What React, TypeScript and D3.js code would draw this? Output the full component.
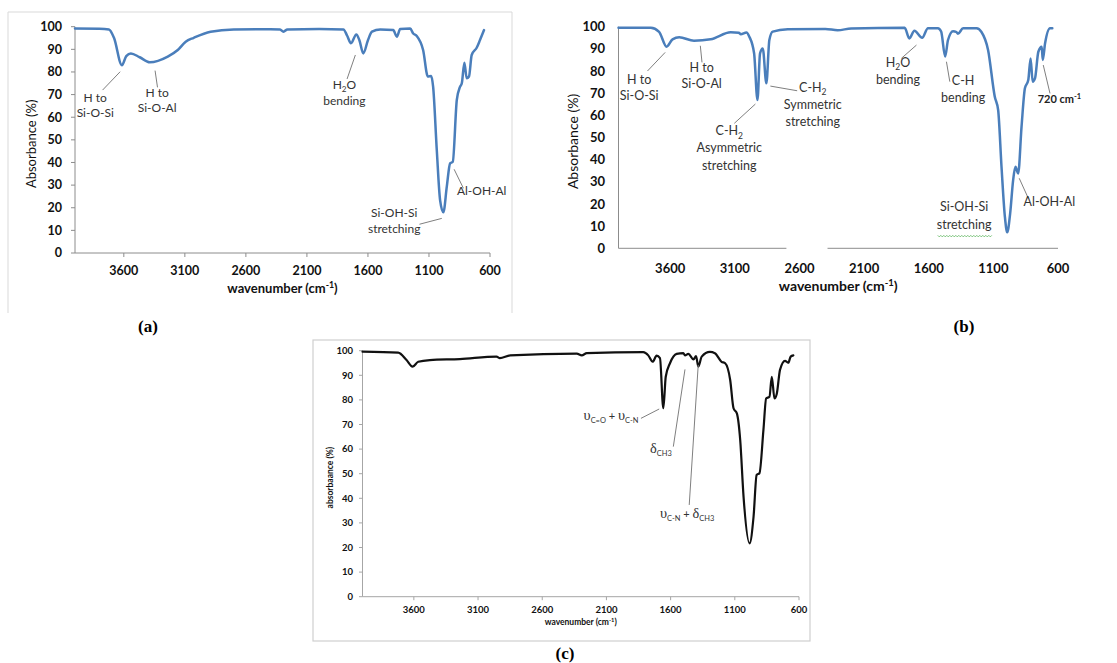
import * as d3 from "d3";

// ---- data ----------------------------------------------------------------
const X_TICKS = [3600, 3100, 2600, 2100, 1600, 1100, 600];
const Y_TICKS = [0, 10, 20, 30, 40, 50, 60, 70, 80, 90, 100];

// (a) kaolinite
const waveA = [4000, 3800, 3722, 3680, 3616, 3580, 3542, 3470, 3387, 3240, 3158, 3093, 3027, 2889, 2700, 2400, 2320, 2292, 2260, 2000, 1801, 1770, 1739, 1695, 1670, 1638, 1600, 1567, 1499, 1393, 1363, 1336, 1254, 1229, 1200, 1148, 1109, 1082, 1066, 1036, 1009, 982, 954, 927, 905, 872, 845, 831, 810, 791, 772, 750, 709, 682, 649];
const absA = [99.2, 99.1, 98.8, 95, 83, 87, 88.2, 86.5, 84.3, 86.8, 89.7, 93.4, 95.1, 97.8, 98.8, 98.9, 98.8, 97.8, 98.8, 99, 98.8, 96, 92.7, 96.6, 94, 88.2, 94, 97.8, 98.8, 98.5, 95.6, 99, 99.2, 97, 95.9, 89.7, 78, 78.2, 73.5, 45.5, 23.4, 18, 29.3, 39.6, 40.3, 67.6, 73.5, 75, 84.1, 77.2, 78, 87.5, 90.7, 94.1, 98.5];

// (b) modified kaolinite
const waveB = [4000, 3750, 3686, 3628, 3582, 3530, 3416, 3287, 3132, 3070, 3054, 3010, 2988, 2951, 2925, 2905, 2884, 2856, 2833, 2807, 2691, 2400, 2305, 2200, 1786, 1750, 1711, 1651, 1606, 1529, 1504, 1473, 1451, 1412, 1386, 1374, 1334, 1230, 1192, 1141, 1089, 1063, 1037, 1011, 993, 970, 947, 929, 908, 882, 856, 830, 812, 796, 778, 752, 726, 718, 700, 662, 644];
const absB = [99.5, 99.5, 97.7, 91, 94.3, 95.2, 93.7, 94.3, 97.5, 97.3, 96.6, 97.4, 95.5, 88, 66.9, 88, 90.2, 74.5, 94, 97.8, 98.8, 99, 98.4, 99.2, 99.5, 94.7, 98.2, 95, 99.3, 99.3, 97.8, 86.5, 94, 98, 97.6, 96.8, 99.3, 99.3, 97.6, 89.5, 68.4, 62.4, 36.8, 14.3, 7.2, 15.8, 30.8, 36.8, 33.8, 54.9, 72.2, 75.9, 85.7, 75.2, 76.7, 88.7, 91, 85, 92.5, 99.3, 99.3];

// (c) urea intercalated
const waveC = [4000, 3722, 3657, 3610, 3566, 3475, 3242, 2956, 2930, 2850, 2331, 2292, 2253, 1813, 1774, 1740, 1709, 1683, 1657, 1638, 1605, 1553, 1501, 1488, 1462, 1422, 1402, 1384, 1358, 1294, 1255, 1203, 1175, 1136, 1110, 1084, 1058, 1032, 985, 954, 930, 908, 877, 856, 830, 812, 791, 773, 748, 709, 683, 665, 644];
const absC = [99.6, 99.2, 96.2, 93.5, 95.5, 96.2, 96.6, 97.6, 97, 98.1, 98.8, 98.1, 99, 99.4, 98.1, 95.5, 98, 97, 76.6, 89.4, 94.9, 98.7, 99, 98.1, 98.7, 96.5, 97.8, 93.5, 97.6, 99.5, 99, 95.5, 94.9, 88.1, 76.6, 74.5, 63.7, 40.7, 21.7, 32.5, 49.5, 50.2, 67.8, 80.6, 81.3, 89.4, 80.6, 82.5, 92.2, 95.9, 95.1, 97.6, 98.1];

// annotations: anchor on the curve, leader end, text lines (wavenumber, absorbance)
type Note = { at?: [number, number]; to?: [number, number]; tx: number; ty: number[]; lines: string[]; anchor?: string };

const notesA: Note[] = [
  { at: [3630, 80.1], to: [3774, 72], tx: 3834, ty: [66.9, 60.2], lines: ["H to", "Si-O-Si"] },
  { at: [3344, 80.6], to: [3324, 73.2], tx: 3327, ty: [69.1, 62.2], lines: ["H to", "Si-O-Al"] },
  { at: [1703, 87.5], to: [1771, 76.9], tx: 1793, ty: [72.5, 65.4], lines: ["H_{2}O", "bending"] },
  { at: [995, 15.3], to: [1178, 12.7], tx: 1385, ty: [15.8, 9.0], lines: ["Si-OH-Si", "stretching"] },
  { at: [894, 37], to: [818, 28.6], tx: 668, ty: [25.6], lines: ["Al-OH-Al"] },
];

const notesB: Note[] = [
  { at: [3639, 88.4], to: [3776, 80], tx: 3840, ty: [74.1, 66.9], lines: ["H to", "Si-O-Si"] },
  { at: [3367, 91.4], to: [3354, 83.9], tx: 3357, ty: [79.7, 72.2], lines: ["H to", "Si-O-Al"] },
  { at: [2941, 65.1], to: [3104, 56.4], tx: 3143, ty: [51.1, 43.3, 35.3], lines: ["C-H_{2}", "Asymmetric", "stretching"] },
  { at: [2825, 73.2], to: [2618, 71.1], tx: 2497, ty: [70.7, 62.9, 55.2], lines: ["C-H_{2}", "Symmetric", "stretching"] },
  { at: [1695, 91.7], to: [1812, 85.7], tx: 1838, ty: [82, 74.1], lines: ["H_{2}O", "bending"] },
  { at: [1463, 84.2], to: [1437, 75.2], tx: 1334, ty: [73.7, 65.9], lines: ["C-H", "bending"] },
  { at: [900, 31.6], to: [830, 22.6], tx: 667, ty: [19.2], lines: ["Al-OH-Al"] },
  { tx: 1326, ty: [16.8, 8.7], lines: ["Si-OH-Si", "stretching"] },
];

const noteB720: Note = { at: [714, 82.7], to: [662, 69.9], tx: 757, ty: [65.4], lines: ["720 cm^{-1}"], anchor: "start" };

const notesC: Note[] = [
  { at: [1689, 76.3], to: [1831, 72.5], tx: 1850, ty: [71.8], lines: ["υ_{C=O} + υ_{C-N}"], anchor: "end" },
  { at: [1488, 92.4], to: [1579, 61], tx: 1761, ty: [58.3], lines: ["δ_{CH3}"], anchor: "start" },
  { at: [1385, 94.2], to: [1455, 37.3], tx: 1683, ty: [31.9], lines: ["υ_{C-N} + δ_{CH3}"], anchor: "start" },
];

const SANS = "Lato, 'Open Sans', sans-serif";
const SERIF = "'Liberation Serif', 'DejaVu Serif', serif";

// text with _{sub} / ^{sup} and serif greek letters
function Rich({ s, size }: { s: string; size: number }) {
  const parts = s.split(/(_\{[^}]*\}|\^\{[^}]*\}|[υδ])/).filter((p) => p !== "");
  let cur = 0;
  return (
    <>
      {parts.map((p, i) => {
        let target = 0;
        let txt = p;
        let fs = size;
        let fam: string | undefined;
        if (p.startsWith("_{")) {
          target = size * 0.28;
          txt = p.slice(2, -1);
          fs = size * 0.68;
        } else if (p.startsWith("^{")) {
          target = -size * 0.38;
          txt = p.slice(2, -1);
          fs = size * 0.68;
        } else if (p === "υ" || p === "δ") {
          fam = SERIF;
          fs = size * 1.3;
        }
        const dy = target - cur;
        cur = target;
        return (
          <tspan key={i} dy={dy} fontSize={fs} fontFamily={fam}>
            {txt}
          </tspan>
        );
      })}
    </>
  );
}

type PanelProps = {
  waves: number[];
  vals: number[];
  left: number;
  right: number;
  top: number;
  bottom: number;
  color: string;
  lineW: number;
  tickFont: number;
  tickLen: number;
  labelRight: number;
  xLabelY: number;
  yTitle: string;
  yTitleX: number;
  yTitleSize: number;
  yTitleWeight: number;
  xTitleY: number;
  xTitleSize: number;
  axisColor: string;
  notes: Note[];
  noteSize: number;
  gap?: [number, number];
};

function Panel(p: PanelProps) {
  const x = d3.scaleLinear().domain([4000, 600]).range([p.left, p.right]);
  const y = d3.scaleLinear().domain([0, 100]).range([p.bottom, p.top]);
  const pts = p.waves.map((w, i) => [w, p.vals[i]] as [number, number]);
  const line = d3
    .line<[number, number]>()
    .x((d) => x(d[0]))
    .y((d) => y(d[1]))
    .curve(d3.curveMonotoneX);

  const axisSegs: [number, number][] = p.gap
    ? [
        [4000, p.gap[0]],
        [p.gap[1], 600],
      ]
    : [[4000, 600]];

  return (
    <g>
      {/* axes */}
      <line x1={p.left} x2={p.left} y1={p.top} y2={p.bottom} stroke={p.axisColor} strokeWidth={1} />
      {axisSegs.map((s, i) => (
        <line key={i} x1={x(s[0])} x2={x(s[1])} y1={p.bottom} y2={p.bottom} stroke={p.axisColor} strokeWidth={1} />
      ))}
      {p.tickLen > 0 &&
        Y_TICKS.map((t) => (
          <line key={"yt" + t} x1={p.left - p.tickLen} x2={p.left} y1={y(t)} y2={y(t)} stroke={p.axisColor} />
        ))}
      {p.tickLen > 0 &&
        X_TICKS.map((t) => (
          <line key={"xt" + t} x1={x(t)} x2={x(t)} y1={p.bottom} y2={p.bottom + p.tickLen} stroke={p.axisColor} />
        ))}
      {Y_TICKS.map((t) => (
        <text
          key={"yl" + t}
          x={p.labelRight}
          y={y(t)}
          dy="0.35em"
          textAnchor="end"
          fontFamily={SANS}
          fontWeight={700}
          fontSize={p.tickFont}
          fill="#111"
        >
          {t}
        </text>
      ))}
      {X_TICKS.map((t) => (
        <text
          key={"xl" + t}
          x={x(t)}
          y={p.xLabelY}
          dy="0.35em"
          textAnchor="middle"
          fontFamily={SANS}
          fontWeight={700}
          fontSize={p.tickFont}
          fill="#111"
        >
          {t}
        </text>
      ))}
      <text
        transform={`translate(${p.yTitleX},${(p.top + p.bottom) / 2 + 4}) rotate(-90)`}
        dy="0.35em"
        textAnchor="middle"
        fontFamily={SANS}
        fontWeight={p.yTitleWeight}
        fontSize={p.yTitleSize}
        fill="#111"
      >
        {p.yTitle}
      </text>
      <text
        x={(p.left + p.right) / 2}
        y={p.xTitleY}
        dy="0.35em"
        textAnchor="middle"
        fontFamily={SANS}
        fontWeight={700}
        fontSize={p.xTitleSize}
        fill="#111"
      >
        <Rich s="wavenumber (cm^{-1})" size={p.xTitleSize} />
      </text>

      {/* spectrum */}
      <path d={line(pts) ?? ""} fill="none" stroke={p.color} strokeWidth={p.lineW} strokeLinejoin="round" strokeLinecap="round" />

      {/* annotations */}
      {p.notes.map((n, i) => (
        <g key={"n" + i}>
          {n.at && n.to && (
            <line x1={x(n.at[0])} y1={y(n.at[1])} x2={x(n.to[0])} y2={y(n.to[1])} stroke="#7f7f7f" strokeWidth={1} />
          )}
          {n.lines.map((l, j) => (
            <text
              key={j}
              x={x(n.tx)}
              y={y(n.ty[j])}
              dy="0.35em"
              textAnchor={n.anchor ?? "middle"}
              fontFamily={SANS}
              fontSize={p.noteSize}
              fill="#333"
            >
              <Rich s={l} size={p.noteSize} />
            </text>
          ))}
        </g>
      ))}
    </g>
  );
}

export default function App() {
  // green spell-check squiggle under "stretching" in (b)
  const xb = d3.scaleLinear().domain([4000, 600]).range([618.5, 1058]);
  const yb = d3.scaleLinear().domain([0, 100]).range([248.3, 26.7]);
  const sq0 = xb(1530);
  const sq1 = xb(1112);
  const sqY = yb(5.6);
  const sq = d3.range(sq0, sq1, 1.5).map((px, i) => [px, sqY + (i % 2 ? 1 : -0.5)] as [number, number]);
  const sqPath = d3.line()(sq) ?? "";

  return (
    <svg width={1117} height={663} style={{ position: "absolute", left: 0, top: 0, background: "#fff" }}>
      <rect x={0} y={0} width={1117} height={663} fill="#fff" />
      {/* frames */}
      <path d="M8,313 V12 H512 V313" fill="none" stroke="#d9d9d9" strokeWidth={1} />
      <rect x={313} y={340} width={497} height={301} fill="none" stroke="#cfcfcf" strokeWidth={1.2} />

      <Panel
        waves={waveA}
        vals={absA}
        left={75}
        right={490}
        top={26.7}
        bottom={253}
        color="#4a7ebb"
        lineW={2.5}
        tickFont={12.5}
        tickLen={4}
        labelRight={62}
        xLabelY={271}
        yTitle="Absorbance (%)"
        yTitleX={31.5}
        yTitleSize={13}
        yTitleWeight={400}
        xTitleY={293}
        xTitleSize={13}
        axisColor="#8c8c8c"
        notes={notesA}
        noteSize={12}
      />

      <Panel
        waves={waveB}
        vals={absB}
        left={618.5}
        right={1058}
        top={26.7}
        bottom={248.3}
        color="#4a7ebb"
        lineW={2.5}
        tickFont={13}
        tickLen={0}
        labelRight={605}
        xLabelY={268.5}
        yTitle="Absorbance (%)"
        yTitleX={573}
        yTitleSize={14}
        yTitleWeight={400}
        xTitleY={291}
        xTitleSize={14}
        axisColor="#8c8c8c"
        notes={notesB}
        noteSize={12.5}
        gap={[2701, 2383]}
      />
      {/* 720 cm-1 label is bold and smaller */}
      <line x1={xb(noteB720.at![0])} y1={yb(noteB720.at![1])} x2={xb(noteB720.to![0])} y2={yb(noteB720.to![1])} stroke="#7f7f7f" />
      <text x={xb(noteB720.tx)} y={yb(noteB720.ty[0])} dy="0.35em" fontFamily={SANS} fontWeight={700} fontSize={11} fill="#222">
        <Rich s={noteB720.lines[0]} size={11} />
      </text>
      <path d={sqPath} fill="none" stroke="#59b359" strokeWidth={0.8} />

      <Panel
        waves={waveC}
        vals={absC}
        left={362.5}
        right={799}
        top={350.7}
        bottom={596.7}
        color="#111"
        lineW={2.2}
        tickFont={9.5}
        tickLen={3.5}
        labelRight={353}
        xLabelY={609.5}
        yTitle="absorbaance (%)"
        yTitleX={330}
        yTitleSize={8.5}
        yTitleWeight={700}
        xTitleY={625}
        xTitleSize={8.5}
        axisColor="#a6a6a6"
        notes={notesC}
        noteSize={11}
      />

      {/* panel letters */}
      <text x={148} y={326} dy="0.35em" textAnchor="middle" fontFamily={SERIF} fontWeight={700} fontSize={17} fill="#000">(a)</text>
      <text x={964} y={326} dy="0.35em" textAnchor="middle" fontFamily={SERIF} fontWeight={700} fontSize={17} fill="#000">(b)</text>
      <text x={565} y={653} dy="0.35em" textAnchor="middle" fontFamily={SERIF} fontWeight={700} fontSize={17} fill="#000">(c)</text>
    </svg>
  );
}
